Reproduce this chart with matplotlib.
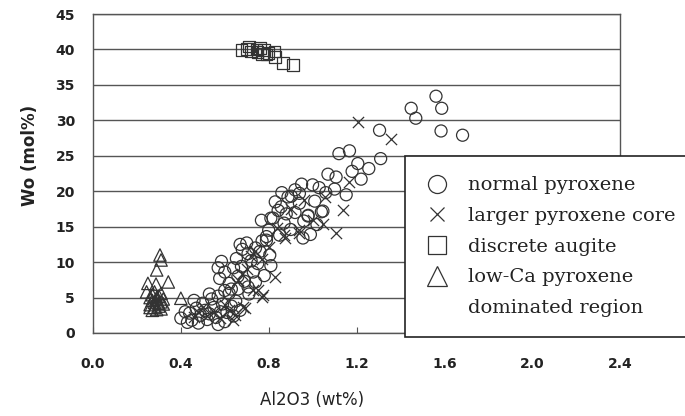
import matplotlib
matplotlib.use("Agg")
import matplotlib.pyplot as plt
from matplotlib.lines import Line2D

# normal pyroxene (Al2O3 wt%, Wo mol%)
normal_x = [0.40, 0.42, 0.44, 0.45, 0.47, 0.48, 0.49, 0.50, 0.51, 0.52,
            0.53, 0.54, 0.55, 0.56, 0.57, 0.58, 0.59, 0.60, 0.61, 0.62,
            0.63, 0.64, 0.65, 0.66, 0.46, 0.53, 0.57, 0.43, 0.60, 0.67,
            0.577, 0.585, 0.60, 0.62, 0.64, 0.653, 0.66, 0.676, 0.69, 0.70,
            0.706, 0.706, 0.72, 0.73, 0.74, 0.75, 0.76, 0.77, 0.79, 0.79,
            0.805, 0.81, 0.68, 0.63, 0.71, 0.74, 0.67, 0.57, 0.78,
            0.767, 0.81, 0.82, 0.843, 0.85, 0.857, 0.87, 0.888, 0.90, 0.903,
            0.92, 0.94, 0.94, 0.956, 0.96, 0.979, 0.98, 1.00, 1.01, 1.03,
            1.04, 1.047, 0.80, 0.83, 0.86, 0.92, 0.95, 0.88, 0.99, 1.02,
            1.07, 1.107, 1.12, 1.153, 1.168, 1.206, 1.221, 1.256, 1.305, 1.31,
            1.10, 1.18, 1.06,
            1.449, 1.47, 1.562, 1.588, 1.585, 1.683]
normal_y = [2.1, 3.0, 2.8, 1.8, 3.5, 1.4, 2.5, 4.2, 3.2, 1.9,
            2.7, 4.8, 3.6, 2.2, 5.2, 3.0, 4.1, 1.6, 2.9, 5.6,
            3.8, 2.4, 4.5, 6.2, 4.6, 5.5, 1.2, 1.5, 6.0, 3.2,
            7.7, 10.1, 8.6, 7.0, 9.2, 10.5, 8.0, 9.4, 7.3, 12.7,
            11.2, 6.5, 10.2, 8.6, 12.0, 9.8, 11.5, 13.0, 13.1, 13.6,
            11.0, 9.5, 11.8, 6.2, 5.5, 7.2, 12.5, 9.2, 8.1,
            15.9, 16.2, 16.2, 17.3, 13.8, 17.8, 15.5, 19.2, 14.6, 19.3,
            17.0, 18.3, 19.7, 13.4, 15.8, 16.5, 16.6, 20.9, 18.6, 20.5,
            17.1, 17.2, 14.5, 18.5, 19.8, 20.2, 21.0, 16.8, 13.9, 15.3,
            22.4, 22.0, 25.3, 19.5, 25.7, 23.9, 21.7, 23.2, 28.6, 24.6,
            20.3, 22.8, 19.8,
            31.7, 30.3, 33.4, 31.7, 28.5, 27.9]

# larger pyroxene core
core_x = [1.206, 1.355, 1.168, 1.138, 1.107, 1.047, 0.94, 0.94, 0.873, 0.87,
          1.055, 0.827, 0.774, 0.77, 0.75, 0.73, 0.69, 0.683, 0.645, 0.638,
          0.60, 0.62, 0.58, 0.55, 0.52, 0.50, 0.48, 0.46, 0.66, 0.70,
          0.72, 0.68, 0.74, 0.77, 0.80, 0.84, 0.90, 0.96, 1.00]
core_y = [29.8, 27.3, 21.3, 17.3, 14.1, 15.4, 14.1, 14.5, 13.4, 13.8,
          19.2, 7.9, 5.4, 5.1, 6.1, 6.1, 3.5, 3.7, 2.5, 1.8,
          4.0, 3.2, 2.1, 3.0, 2.4, 3.6, 2.9, 2.2, 7.5, 9.0,
          10.8, 8.3, 11.5, 10.5, 12.2, 14.8, 17.5, 18.8, 16.0]

# discrete augite
augite_x = [0.676, 0.70, 0.71, 0.72, 0.744, 0.75, 0.76, 0.77, 0.78, 0.79,
            0.80, 0.827, 0.83, 0.865, 0.91]
augite_y = [39.9, 40.1, 40.4, 39.7, 40.0, 39.6, 40.2, 39.4, 39.9, 39.3,
            39.5, 39.7, 38.9, 38.1, 37.8]

# low-Ca pyroxene dominated region
lowca_x = [0.305, 0.31, 0.29, 0.25, 0.287, 0.343, 0.40, 0.244,
           0.26, 0.27, 0.28, 0.29, 0.30, 0.31, 0.32, 0.27, 0.29, 0.31,
           0.26, 0.28, 0.30, 0.32, 0.27, 0.29, 0.31, 0.30, 0.28, 0.26]
lowca_y = [11.0, 10.3, 8.9, 7.0, 6.9, 7.2, 4.9, 5.8,
           4.0, 4.6, 3.6, 5.0, 4.2, 3.4, 4.8, 5.4, 3.3, 5.6,
           5.0, 4.3, 3.8, 4.1, 3.2, 4.7, 4.4, 5.2, 5.8, 3.6]

xticks = [0.0, 0.4, 0.8, 1.2, 1.6, 2.0, 2.4]
yticks = [0, 5, 10, 15, 20, 25, 30, 35, 40, 45]

ink = "#333333"

fig = plt.figure(figsize=(6.85, 4.16), dpi=100)
ax = fig.add_axes([93 / 685, 1 - 333 / 416, 527 / 685, 319 / 416])

ax.scatter(normal_x, normal_y, s=75, marker="o", facecolors="none",
           edgecolors=ink, linewidths=0.9, zorder=3)
ax.scatter(core_x, core_y, s=65, marker="x", color=ink, linewidths=0.9, zorder=3)
ax.scatter(augite_x, augite_y, s=70, marker="s", facecolors="none",
           edgecolors=ink, linewidths=0.9, zorder=3)
ax.scatter(lowca_x, lowca_y, s=80, marker="^", facecolors="none",
           edgecolors=ink, linewidths=0.9, zorder=3)

ax.set_xlim(0, 2.4)
ax.set_ylim(0, 45)
ax.set_xticks(xticks)
ax.set_xticklabels([f"{v:.1f}" for v in xticks])
ax.set_yticks(yticks)
ax.grid(axis="y", color="#555555", linewidth=1.0)
ax.set_axisbelow(True)
for sp in ax.spines.values():
    sp.set_color("#555555")
    sp.set_linewidth(1.0)
ax.tick_params(axis="x", direction="in", length=4, color="#555555", pad=17)
ax.tick_params(axis="y", length=0, pad=13)
for lab in ax.get_xticklabels() + ax.get_yticklabels():
    lab.set_fontsize(10)
    lab.set_fontweight("bold")
    lab.set_color("#222222")

fig.text(312 / 685, 1 - 400 / 416, "Al2O3 (wt%)", ha="center", va="center",
         fontsize=12, color="#222222")
fig.text(30 / 685, 1 - 155 / 416, "Wo (mol%)", ha="center", va="center",
         rotation=90, fontsize=12, fontweight="bold", color="#222222")

handles = [
    Line2D([], [], ls="none", marker="o", mfc="none", mec=ink, ms=13, mew=0.9),
    Line2D([], [], ls="none", marker="x", mec=ink, ms=10, mew=0.9),
    Line2D([], [], ls="none", marker="s", mfc="none", mec=ink, ms=13, mew=0.9),
    Line2D([], [], ls="none", marker="^", mfc="none", mec=ink, ms=14, mew=0.9),
    Line2D([], [], ls="none", marker=None),
]
labels = ["normal pyroxene", "larger pyroxene core", "discrete augite",
          "low-Ca pyroxene", "dominated region"]
leg = fig.legend(handles, labels, loc="upper left",
                 bbox_to_anchor=(405 / 685, 1 - 156 / 416),
                 prop={"family": "DejaVu Serif", "size": 14},
                 frameon=True, fancybox=False, framealpha=1,
                 borderpad=1.05, labelspacing=0.65, handlelength=1.2,
                 handletextpad=1.0, borderaxespad=0)
leg.get_frame().set_edgecolor("#222222")
leg.get_frame().set_linewidth(1.2)
for t in leg.get_texts():
    t.set_color("#222222")

fig.savefig("out.png", dpi=100)
